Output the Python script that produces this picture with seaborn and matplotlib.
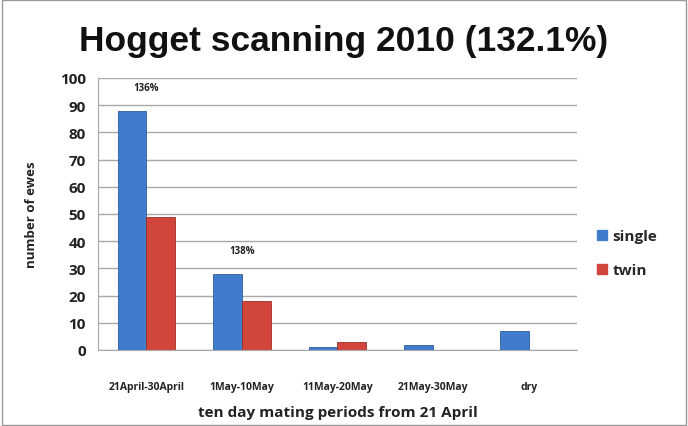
import matplotlib
matplotlib.use("Agg")
import matplotlib.pyplot as plt
import seaborn as sns
import pandas as pd
from matplotlib.patches import Rectangle
from matplotlib.lines import Line2D

periods = ["21April-30April", "1May-10May", "11May-20May", "21May-30May", "dry"]
single = [88, 28, 1, 2, 7]
twin = [49, 18, 3, 0, 0]
pct_labels = ["136%", "138%"]
series = ["single", "twin"]
colors = {"single": "#3f7ccc", "twin": "#d2453d"}

df = pd.DataFrame({
    "period": periods * 2,
    "count": single + twin,
    "type": ["single"] * len(periods) + ["twin"] * len(periods),
})

sns.set_style("white")
plt.rcParams["font.family"] = ["Open Sans", "DejaVu Sans"]

fig = plt.figure(figsize=(6.88, 4.27), dpi=100)
ax = fig.add_axes([0.143, 0.178, 0.695, 0.637])

sns.barplot(data=df, x="period", y="count", hue="type", palette=colors,
            width=0.6, ax=ax, saturation=1, linewidth=0.6, legend=False)
for p, t in zip(ax.patches, ["single"] * 5 + ["twin"] * 5):
    p.set_edgecolor("#2d5d99" if t == "single" else "#9e3029")

ax.set_ylim(0, 100)
ax.set_yticks(range(0, 101, 10))
ax.set_xlim(-0.5, 4.5)
ax.yaxis.grid(True, color="#a8a8a8", linewidth=1.0)
ax.set_axisbelow(True)
for s in ["top", "right"]:
    ax.spines[s].set_visible(False)
ax.spines["left"].set_color("#a8a8a8")
ax.spines["bottom"].set_color("#a8a8a8")
ax.tick_params(axis="y", labelsize=11, pad=9, length=0)
ax.tick_params(axis="x", labelsize=7.5, pad=22, length=0)
for lab in ax.get_yticklabels() + ax.get_xticklabels():
    lab.set_fontweight("bold")
    lab.set_color("#222222")

ax.set_xlabel("ten day mating periods from 21 April", fontsize=11,
              fontweight="bold", color="#222222", labelpad=10)
ax.set_ylabel("number of ewes", fontsize=9.5, fontweight="bold", color="#222222",
              labelpad=16)

# percentage annotations above the first two groups
for i, (txt, v) in enumerate(zip(pct_labels, single)):
    ax.text(i, v + 8.5, txt, ha="center", va="center", fontsize=7,
            fontweight="bold", color="#222222")

fig.text(0.5, 0.903, "Hogget scanning 2010 (132.1%)", ha="center", va="center",
         fontsize=25.5, fontweight="bold", color="#111111",
         family=["Liberation Sans", "DejaVu Sans"])

handles = [Line2D([], [], marker="s", linestyle="none", markersize=7,
                  markerfacecolor=colors[s], markeredgecolor=colors[s]) for s in series]
fig.legend(handles, series, loc="center left", bbox_to_anchor=(0.866, 0.405),
           frameon=False, handlelength=0.8, handletextpad=0.3, labelspacing=1.3,
           borderaxespad=0, borderpad=0,
           prop={"weight": "bold", "size": 11})

fig.patches.append(Rectangle((0.003, 0.003), 0.994, 0.994, transform=fig.transFigure,
                             fill=False, edgecolor="#999999", linewidth=1))
fig.savefig("out.png", dpi=100, facecolor="white")
